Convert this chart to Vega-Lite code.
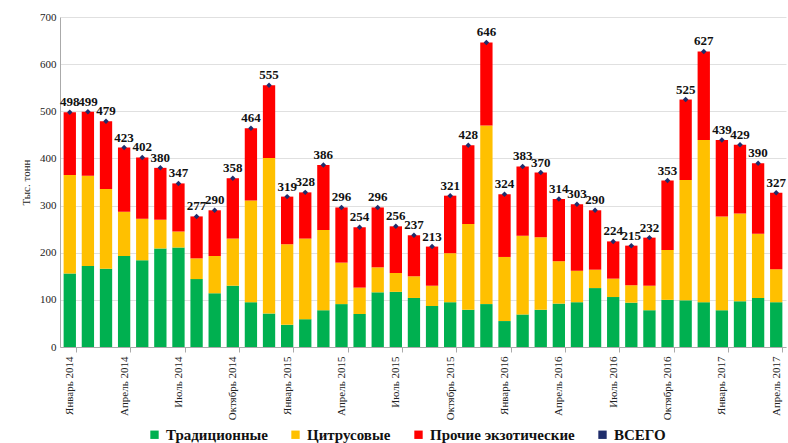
{
  "$schema": "https://vega.github.io/schema/vega-lite/v6.json",
  "width": 726,
  "height": 330,
  "autosize": "none",
  "padding": {"left": 60, "top": 17, "right": 2, "bottom": 96},
  "background": "white",
  "config": {
    "view": {"stroke": null},
    "font": "Liberation Serif",
    "axis": {"labelFont": "Liberation Serif", "titleFont": "Liberation Serif", "labelColor": "#222", "titleColor": "#222"},
    "legend": {"labelFont": "Liberation Serif", "titleFont": "Liberation Serif"}
  },
  "data": {
    "values": [
      {"m": "Январь 2014", "t": 156, "c": 209, "e": 133, "total": 498},
      {"m": "Февраль 2014", "t": 172, "c": 191, "e": 136, "total": 499},
      {"m": "Март 2014", "t": 166, "c": 169, "e": 144, "total": 479},
      {"m": "Апрель 2014", "t": 193, "c": 94, "e": 136, "total": 423},
      {"m": "Май 2014", "t": 184, "c": 88, "e": 130, "total": 402},
      {"m": "Июнь 2014", "t": 209, "c": 61, "e": 110, "total": 380},
      {"m": "Июль 2014", "t": 211, "c": 34, "e": 102, "total": 347},
      {"m": "Август 2014", "t": 144, "c": 44, "e": 89, "total": 277},
      {"m": "Сентябрь 2014", "t": 114, "c": 79, "e": 97, "total": 290},
      {"m": "Октябрь 2014", "t": 130, "c": 100, "e": 128, "total": 358},
      {"m": "Ноябрь 2014", "t": 95, "c": 216, "e": 153, "total": 464},
      {"m": "Декабрь 2014", "t": 71, "c": 330, "e": 154, "total": 555},
      {"m": "Январь 2015", "t": 47, "c": 171, "e": 101, "total": 319},
      {"m": "Февраль 2015", "t": 59, "c": 171, "e": 98, "total": 328},
      {"m": "Март 2015", "t": 78, "c": 170, "e": 138, "total": 386},
      {"m": "Апрель 2015", "t": 91, "c": 88, "e": 117, "total": 296},
      {"m": "Май 2015", "t": 70, "c": 56, "e": 128, "total": 254},
      {"m": "Июнь 2015", "t": 116, "c": 53, "e": 127, "total": 296},
      {"m": "Июль 2015", "t": 117, "c": 40, "e": 99, "total": 256},
      {"m": "Август 2015", "t": 104, "c": 46, "e": 87, "total": 237},
      {"m": "Сентябрь 2015", "t": 87, "c": 43, "e": 83, "total": 213},
      {"m": "Октябрь 2015", "t": 95, "c": 104, "e": 122, "total": 321},
      {"m": "Ноябрь 2015", "t": 79, "c": 182, "e": 167, "total": 428},
      {"m": "Декабрь 2015", "t": 91, "c": 379, "e": 176, "total": 646},
      {"m": "Январь 2016", "t": 55, "c": 136, "e": 133, "total": 324},
      {"m": "Февраль 2016", "t": 69, "c": 167, "e": 147, "total": 383},
      {"m": "Март 2016", "t": 79, "c": 154, "e": 137, "total": 370},
      {"m": "Апрель 2016", "t": 92, "c": 90, "e": 132, "total": 314},
      {"m": "Май 2016", "t": 95, "c": 67, "e": 141, "total": 303},
      {"m": "Июнь 2016", "t": 125, "c": 39, "e": 126, "total": 290},
      {"m": "Июль 2016", "t": 106, "c": 39, "e": 79, "total": 224},
      {"m": "Август 2016", "t": 94, "c": 37, "e": 84, "total": 215},
      {"m": "Сентябрь 2016", "t": 78, "c": 52, "e": 102, "total": 232},
      {"m": "Октябрь 2016", "t": 100, "c": 106, "e": 147, "total": 353},
      {"m": "Ноябрь 2016", "t": 99, "c": 255, "e": 171, "total": 525},
      {"m": "Декабрь 2016", "t": 95, "c": 344, "e": 188, "total": 627},
      {"m": "Январь 2017", "t": 78, "c": 199, "e": 162, "total": 439},
      {"m": "Февраль 2017", "t": 97, "c": 186, "e": 146, "total": 429},
      {"m": "Март 2017", "t": 104, "c": 136, "e": 150, "total": 390},
      {"m": "Апрель 2017", "t": 95, "c": 70, "e": 162, "total": 327}
    ]
  },
  "encoding": {
    "x": {
      "field": "m", "type": "nominal", "sort": null,
      "scale": {"paddingInner": 0.32, "paddingOuter": 0.2},
      "axis": {
        "title": null, "labelAngle": -90, "labelFontSize": 11, "labelPadding": 4,
        "domainColor": "#aaa", "tickColor": "#aaa", "tickBand": "extent", "tickSize": 5,
        "tickOpacity": {"condition": {"test": "test(/^(Январь|Апрель|Июль|Октябрь)/, datum.label)", "value": 1}, "value": 0},
        "labelExpr": "test(/^(Январь|Апрель|Июль|Октябрь)/, datum.label) ? datum.label : ''"
      }
    }
  },
  "layer": [
    {
      "transform": [
        {"fold": ["t", "c", "e"], "as": ["k", "v"]},
        {"calculate": "datum.k === 't' ? 'Традиционные' : datum.k === 'c' ? 'Цитрусовые' : 'Прочие экзотические'", "as": "cat"},
        {"calculate": "datum.k === 't' ? 0 : datum.k === 'c' ? 1 : 2", "as": "ord"}
      ],
      "mark": {"type": "bar"},
      "encoding": {
        "y": {
          "field": "v", "type": "quantitative", "stack": "zero",
          "scale": {"domain": [0, 700]},
          "axis": {
            "title": "Тыс. тонн", "titleFontSize": 11, "titleFontWeight": "normal", "titlePadding": 8,
            "values": [0,50,100,150,200,250,300,350,400,450,500,550,600,650,700],
            "labelFontSize": 11, "gridColor": "#e0e0e0", "domainColor": "#aaa", "ticks": false, "labelPadding": 4
          }
        },
        "order": {"field": "ord", "type": "quantitative"},
        "color": {
          "field": "cat", "type": "nominal",
          "scale": {
            "domain": ["Традиционные", "Цитрусовые", "Прочие экзотические", "ВСЕГО"],
            "range": ["#00B050", "#FFC000", "#FF0000", "#1F2D6B"]
          },
          "legend": {
            "title": null, "orient": "none", "direction": "horizontal", "legendX": 87, "legendY": 410,
            "symbolType": "square", "symbolSize": 70, "labelFont": "Liberation Serif", "labelFontSize": 15,
            "labelFontWeight": "bold", "columnPadding": 20, "symbolStrokeWidth": 0, "labelColor": "#111"
          }
        }
      }
    },
    {
      "mark": {"type": "point", "shape": "diamond", "filled": true, "size": 30, "opacity": 1},
      "encoding": {
        "y": {"field": "total", "type": "quantitative"},
        "color": {"datum": "ВСЕГО"}
      }
    },
    {
      "mark": {"type": "text", "dy": -10, "font": "Liberation Serif", "fontWeight": "bold", "fontSize": 13, "color": "#111"},
      "encoding": {
        "y": {"field": "total", "type": "quantitative"},
        "text": {"field": "total", "type": "quantitative"}
      }
    }
  ]
}
